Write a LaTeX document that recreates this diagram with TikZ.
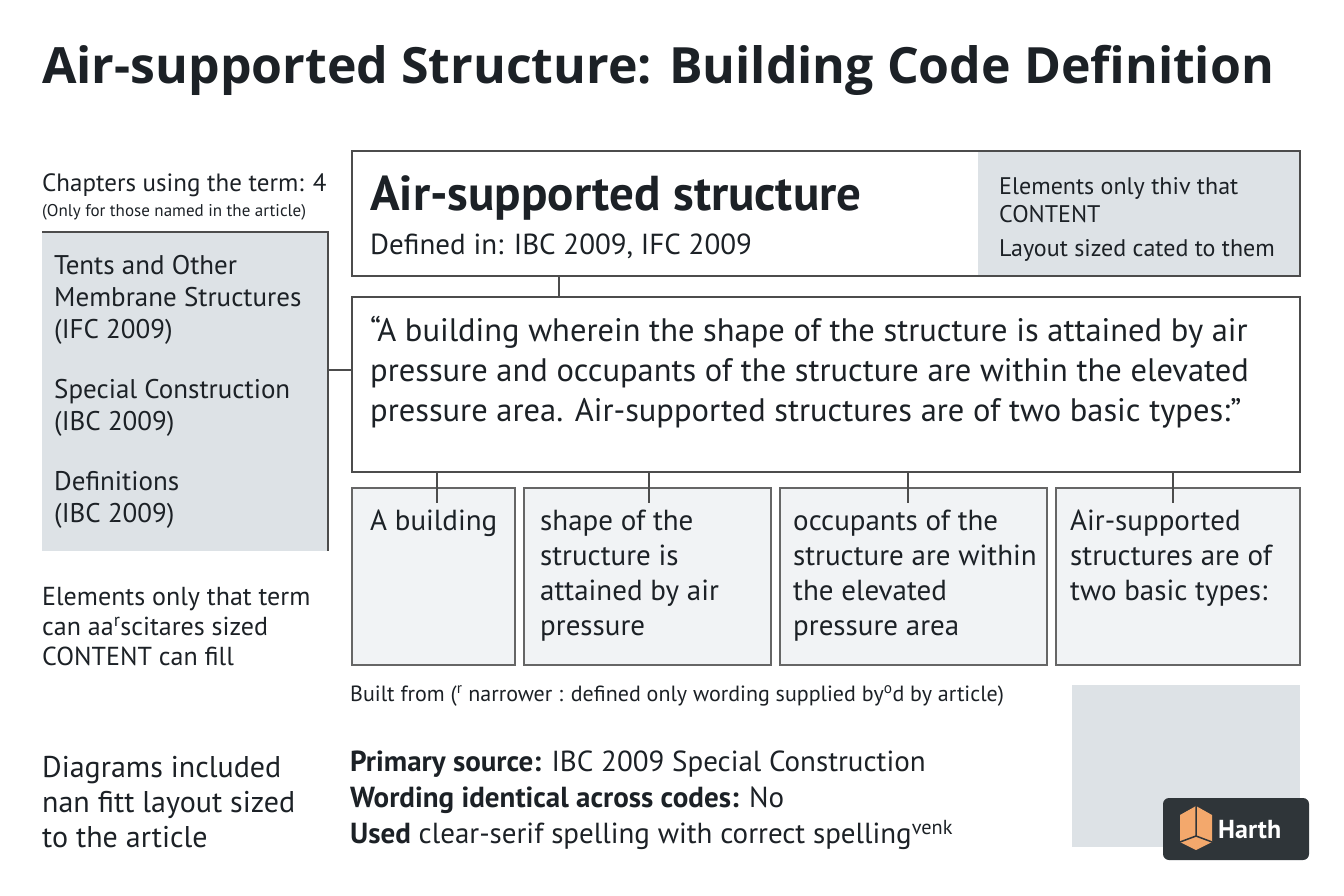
\documentclass[tikz,border=0pt]{standalone}
\usepackage{fontspec}
\setmainfont{PT Sans}
\newfontfamily\titlefont{Open Sans}
\definecolor{panel}{HTML}{DDE2E6}
\definecolor{light}{HTML}{F1F3F5}
\definecolor{ink}{HTML}{1C2126}
\definecolor{logobg}{HTML}{2F3539}
\definecolor{logoor}{HTML}{F3A86C}
\begin{document}
\begin{tikzpicture}[x=1pt,y=-1pt,
  t/.style={anchor=west,inner sep=0pt,text=ink,align=left},
  bx/.style={draw=black!70,line width=1.8pt},
  sbx/.style={draw=black!60,line width=1.4pt,fill=light},
  cn/.style={draw=black!70,line width=1.4pt}]
\useasboundingbox[fill=white] (0,0) rectangle (1344,896);
\node[t,font=\titlefont\fontsize{50}{56}\selectfont\bfseries] (title) at (42,70) {Air-supported Structure: Building Code Definition};
\node[t,font=\fontsize{25}{28}\selectfont] (ch) at (42,185) {Chapters using the term: 4};
\node[t,font=\fontsize{17}{20}\selectfont] (chs) at (42,212) {(Only for those named in the article)};
% left box
\fill[panel] (42,232) rectangle (328,551);
\draw[cn] (42,232) -- (328,232) -- (328,551);
\coordinate (lb) at (328,370);
\node[t,font=\fontsize{27}{32}\selectfont] (c1) at (54,300) {Tents and Other\\Membrane Structures\\(IFC 2009)};
\node[t,font=\fontsize{27}{32}\selectfont] (c2) at (54,408) {Special Construction\\(IBC 2009)};
\node[t,font=\fontsize{27}{32}\selectfont] (c3) at (54,500) {Definitions\\(IBC 2009)};
% header
\fill[panel] (978,151) rectangle (1300,276);
\draw[bx] (352,151) rectangle (1300,276);
\coordinate (hb) at (559,276);
\node[t,font=\fontsize{49}{54}\selectfont\bfseries] (name) at (370,198) {Air-supported structure};
\node[t,font=\fontsize{29}{32}\selectfont] (def) at (370,246) {Defined in: IBC 2009, IFC 2009};
\node[t,font=\fontsize{24}{28}\selectfont] (side) at (999,200) {Elements only thiv that\\CONTENT};
\node[t,font=\fontsize{24}{28}\selectfont] (side2) at (999,250) {Layout sized cated to them};
% quote
\draw[bx] (352,297) rectangle (1300,472);
\coordinate (qt) at (559,297);
\coordinate (ql) at (352,370);
\node[t,font=\fontsize{32.5}{40}\selectfont] (q) at (370,372) {“A building wherein the shape of the structure is attained by air\\pressure and occupants of the structure are within the elevated\\pressure area. Air-supported structures are of two basic types:”};
\draw[cn] (lb) -- (ql);
\draw[cn] (hb) -- (qt);
% parts
\draw[sbx] (352,488) rectangle (515,665);
\draw[sbx] (524,488) rectangle (771,665);
\draw[sbx] (780,488) rectangle (1047,665);
\draw[sbx] (1056,488) rectangle (1300,665);
\foreach \x/\n in {437/a,649/b,908/c,1173/d}{
  \coordinate (top\n) at (\x,472);
  \coordinate (in\n) at (\x,503);
  \draw[cn] (top\n) -- (in\n);}
\node[t,font=\fontsize{29}{35}\selectfont,anchor=north west] (p1) at (370,510) {A building};
\node[t,font=\fontsize{29}{35}\selectfont,anchor=north west] (p2) at (540,510) {shape of the\\structure is\\attained by air\\pressure};
\node[t,font=\fontsize{29}{35}\selectfont,anchor=north west] (p3) at (793,510) {occupants of the\\structure are within\\the elevated\\pressure area};
\node[t,font=\fontsize{29}{35}\selectfont,anchor=north west] (p4) at (1070,510) {Air-supported\\structures are of\\two basic types:};
% left lower
\node[t,font=\fontsize{26}{30}\selectfont] (el) at (42,627) {Elements only that term\\can aa\textsuperscript{r}scitares sized\\CONTENT can fill};
\node[t,font=\fontsize{30}{35}\selectfont] (dg) at (42,802) {Diagrams included\\nan fitt layout sized\\to the article};
% bottom
\node[t,font=\fontsize{22}{26}\selectfont] (bf) at (350,696) {Built from (\textsuperscript{r} narrower : defined only wording supplied by\textsuperscript{o}d by article)};
\node[t,font=\fontsize{29}{36}\selectfont] (src) at (350,800) {\textbf{Primary source:} IBC 2009 Special Construction\\\textbf{Wording identical across codes:} No\\\textbf{Used} clear-serif spelling with correct spelling\textsuperscript{venk}};
\fill[panel] (1072,685) rectangle (1300,847);
\node[fill=logobg,rounded corners=6pt,minimum width=146pt,minimum height=62pt,inner sep=0pt] (logo) at (1236,829) {};
\fill[logoor] (1180,815) -- (1196,806) -- (1212,815) -- (1212,842) -- (1196,850) -- (1180,842) -- cycle;
\draw[logobg,line width=1.5pt] (1196,806) -- (1196,836) -- (1180,842) (1196,836) -- (1212,842);
\node[t,text=white,font=\fontsize{26}{30}\selectfont\bfseries] (harth) at (1218,830) {Harth};
\end{tikzpicture}
\end{document}
